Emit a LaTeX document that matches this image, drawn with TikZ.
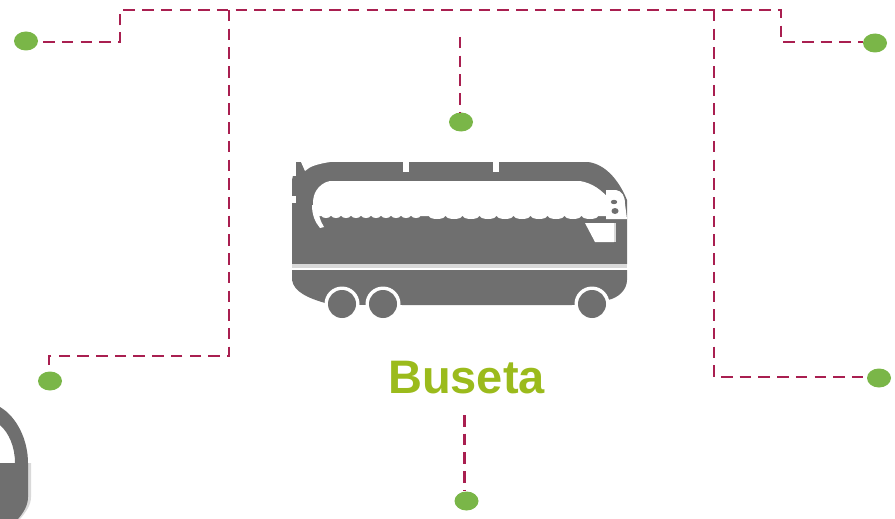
\documentclass[tikz,border=0pt]{standalone}
\usepackage{fontspec}
\setmainfont{Liberation Sans}
\usetikzlibrary{shapes.geometric}
\definecolor{linkred}{HTML}{A91F50}
\definecolor{dotgreen}{HTML}{7AB648}
\definecolor{busgray}{HTML}{6F6F6F}
\definecolor{titlegreen}{HTML}{9BBB1C}
\tikzset{
  dotnode/.style={ellipse,fill=dotgreen,draw=none,minimum width=24pt,minimum height=19pt,inner sep=0pt},
  link/.style={draw=linkred,line width=2.7pt,dash pattern=on 11.5pt off 7.2pt},
  busfill/.style={fill=busgray,draw=none},
  cutfill/.style={fill=white,draw=none}
}
\begin{document}
\begin{tikzpicture}[x=1pt,y=-1pt]
\useasboundingbox (0,0) rectangle (895,519);
% partial icon at lower left
\fill[black!15] (28,463) -- (31,463) -- (31,497) .. controls (31,505) and (26,512) .. (20,519) -- (16,519) -- (28,497) -- cycle;
\path[busfill] (0,407) .. controls (17,417) and (28,440) .. (28,463) -- (28,497) .. controls (28,505) and (24,512) .. (18,519) -- (0,519) -- (0,463) -- (15,463) .. controls (15,447) and (9,433) .. (0,425) -- cycle;
% bus body
\path[busfill] (296,162) -- (588,162) .. controls (604,164) and (618,178) .. (627,200) -- (627,264) -- (292,264) -- (292,180) -- cycle;
\path[fill=black!15] (292,264) rectangle (627,268);
\path[busfill] (292,270) -- (627,270) -- (627,280) .. controls (627,290) and (618,298) .. (608,300) -- (605,305) -- (330,305) -- (325,303) .. controls (308,298) and (294,292) .. (292,280) -- cycle;
% top and left nicks
\path[cutfill] (301,162) -- (330,162) .. controls (318,164) and (310,166) .. (305,171) -- cycle;
\path[cutfill] (403,162) rectangle (409,172);
\path[cutfill] (493,162) rectangle (499,172);
\path[cutfill] (292,196) rectangle (296,203);
\path[cutfill] (292,162) rectangle (296,176);
% window
\path[cutfill] (330,181) -- (580,181) .. controls (592,183) and (602,190) .. (610,200) -- (612,216) -- (316,216) .. controls (312,208) and (312,198) .. (316,191) .. controls (319,186) and (324,182) .. (330,181) -- cycle;
\path[cutfill] (312,205) .. controls (312,215) and (315,222) .. (320,228) -- (324,227) .. controls (320,221) and (318,213) .. (318,205) -- cycle;
\foreach \gx in {326,336,346,356,366,376,386,396,406,416}
  \path[cutfill] (\gx,216) ellipse (4.4 and 2);
\foreach \gx in {437,454,471,488,505,522,539,556,573,590}
  \path[cutfill] (\gx,216) ellipse (8 and 3);
% white glyph at window end
\path[cutfill] (606,190) -- (616,190) .. controls (622,191) and (625,196) .. (625,204) -- (627,219) -- (606,219) -- cycle;
\path[busfill] (614,202) ellipse (3.2 and 2.2);
\path[busfill] (615,211) ellipse (3.5 and 3);
% windshield
\path[cutfill] (585,223) -- (614,223) -- (614,242) -- (595,242) -- cycle;
\path[fill=black!15] (614,223) rectangle (616,242);
% wheels
\foreach \wx in {342,383,592}
  \path[cutfill] (\wx,304) circle (17.5);
\path[cutfill] (322,305) rectangle (362,322);
\path[cutfill] (362,305) rectangle (402,322);
\path[cutfill] (572,305) rectangle (612,322);
\foreach \wx in {342,383,592}
  \path[busfill] (\wx,304) circle (14);
% title
\node[anchor=base,inner sep=0pt,text=titlegreen,font=\fontsize{47}{47}\selectfont\bfseries] (title) at (466.5,393) {Buseta};
% dots
\node[dotnode] (d1) at (26,41) {};
\node[dotnode] (d2) at (875,43) {};
\node[dotnode] (d3) at (461,122) {};
\node[dotnode] (d4) at (50,381) {};
\node[dotnode] (d5) at (879,378) {};
\node[dotnode] (d6) at (466.5,501) {};
% connector corners and free ends
\coordinate (c1) at (120,42);
\coordinate (c2) at (120,10);
\coordinate (c3) at (781,10);
\coordinate (c4) at (781,42);
\coordinate (j1) at (229,10);
\coordinate (c5) at (229,356);
\coordinate (c6) at (49,356);
\coordinate (j2) at (714,10);
\coordinate (c7) at (714,377);
\coordinate (t3) at (460,37);
\coordinate (t6) at (464.5,415);
\draw[link] ([xshift=5pt]d1.east |- c1) -- (c1) -- (c2) -- (c3) -- (c4) -- (d2.west |- c4);
\draw[link] (j1) -- (c5) -- (c6) -- (d4.north -| c6);
\draw[link] (j2) -- (c7) -- (d5.west |- c7);
\draw[link] (t3) -- (d3.north -| t3);
\draw[link] (t6) -- (d6.north -| t6);
\end{tikzpicture}
\end{document}
